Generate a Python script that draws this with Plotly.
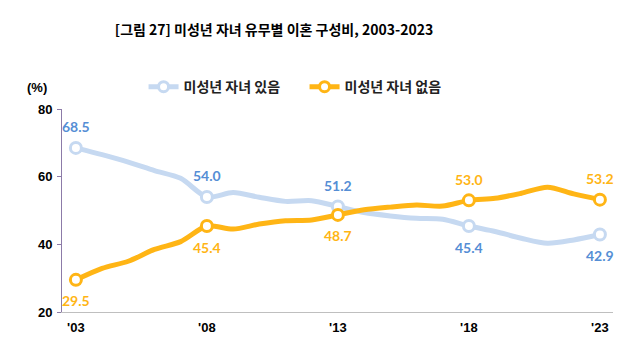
import plotly.graph_objects as go

years = list(range(2003, 2024))
with_children = [68.5, 66.5, 64.3, 61.8, 59.5, 54.0, 55.3, 53.9, 52.7, 52.9, 51.2,
                 49.4, 48.4, 47.7, 47.4, 45.4, 43.8, 41.8, 40.3, 41.3, 42.9]
without_children = [29.5, 32.9, 35.0, 38.5, 40.8, 45.4, 44.5, 46.0, 47.0, 47.2, 48.7,
                    50.2, 51.0, 51.6, 51.3, 53.0, 53.6, 55.1, 56.9, 54.9, 53.2]
key_years = [2003, 2008, 2013, 2018, 2023]
tick_labels = ["'03", "'08", "'13", "'18", "'23"]
series_names = ["미성년 자녀 있음", "미성년 자녀 없음"]
title_text = "[그림 27] 미성년 자녀 유무별 이혼 구성비, 2003-2023"

line_colors = ["#C6D9F1", "#FFB515"]
label_colors = ["#558ED5", "#FFB515"]
# label above (+1) or below (-1) per key year
label_side = [[1, 1, 1, -1, -1], [-1, -1, -1, 1, 1]]

fig = go.Figure()
for i, vals in enumerate([with_children, without_children]):
    kv = [vals[years.index(y)] for y in key_years]
    fig.add_trace(go.Scatter(x=years, y=vals, mode="lines",
                             line=dict(color=line_colors[i], width=5, shape="spline", smoothing=0.8),
                             showlegend=False, hoverinfo="skip"))
    fig.add_trace(go.Scatter(x=key_years, y=kv, mode="markers",
                             marker=dict(size=11, color="white",
                                         line=dict(color=line_colors[i], width=3)),
                             showlegend=False, hoverinfo="skip"))
    fig.add_trace(go.Scatter(x=[None], y=[None], mode="lines+markers", name=series_names[i],
                             line=dict(color=line_colors[i], width=5),
                             marker=dict(size=10, color="white",
                                         line=dict(color=line_colors[i], width=3))))
    for ky, v, s in zip(key_years, kv, label_side[i]):
        fig.add_annotation(x=ky, y=v, text=f"{v:.1f}", showarrow=False,
                           yshift=21 * s,
                           font=dict(family="Lato", size=14, color=label_colors[i], weight="bold"))

fig.add_annotation(xref="paper", yref="paper", x=-0.045, y=1.108, text="(%)",
                   showarrow=False, xanchor="center", yanchor="middle",
                   font=dict(family="Liberation Sans", size=13, color="black", weight="bold"))

fig.update_layout(
    width=634, height=350,
    margin=dict(l=54, r=29, t=101, b=46),
    paper_bgcolor="white", plot_bgcolor="white",
    title=dict(text=title_text, x=0.4196, xanchor="center", y=0.937, yanchor="middle",
               font=dict(family="Noto Sans CJK KR", size=14, color="black", weight="bold")),
    legend=dict(orientation="h", x=0.148, xanchor="left", y=1.108, yanchor="middle",
                entrywidth=116, entrywidthmode="pixels",
                font=dict(family="Noto Sans CJK KR", size=14, color="#222222", weight="bold"),
                bgcolor="rgba(0,0,0,0)"),
    xaxis=dict(range=[2002.47, 2023.5], tickvals=key_years, ticktext=tick_labels,
               showgrid=False, zeroline=False, showline=True, linecolor="#BFBFBF", linewidth=1,
               ticks="", ticklabelstandoff=3,
               tickfont=dict(family="Liberation Sans", size=13, color="black", weight="bold")),
    yaxis=dict(range=[20, 80], tickvals=[20, 40, 60, 80], showgrid=False, zeroline=False,
               showline=True, linecolor="#8C7BA8", linewidth=1, ticks="outside", ticklen=4,
               tickcolor="#8C7BA8", ticklabelstandoff=2,
               tickfont=dict(family="Liberation Sans", size=13, color="black", weight="bold")),
)

fig.write_html("out.html")
